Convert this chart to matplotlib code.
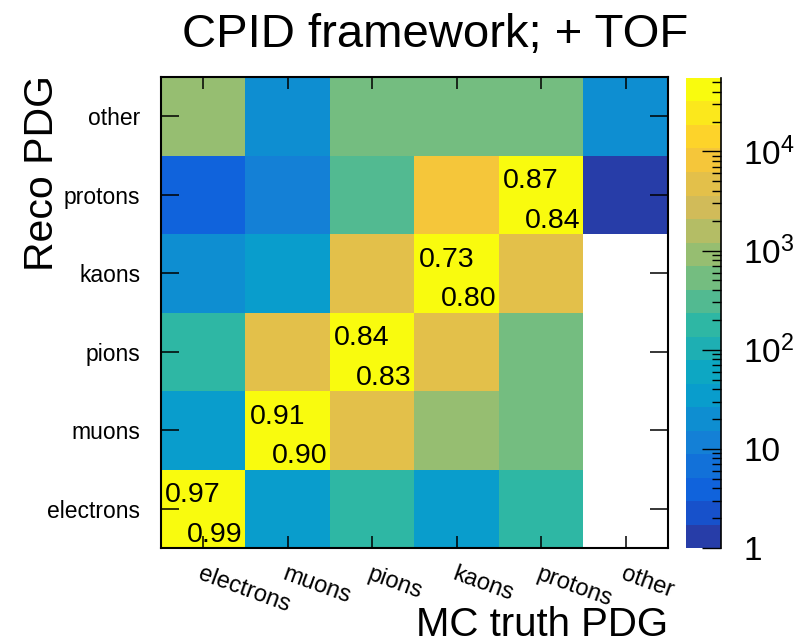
import numpy as np
import matplotlib
matplotlib.use("Agg")
import matplotlib.pyplot as plt
from matplotlib.colors import LinearSegmentedColormap, ListedColormap, BoundaryNorm
from matplotlib.ticker import FixedLocator, FixedFormatter, NullLocator

plt.rcParams['font.family'] = ['Liberation Sans', 'DejaVu Sans']
plt.rcParams['mathtext.fontset'] = 'custom'
plt.rcParams['mathtext.rm'] = 'Liberation Sans'
plt.rcParams['mathtext.it'] = 'Liberation Sans'

# Data: rows = reco PDG (bottom -> top), columns = MC truth PDG
categories = ["electrons", "muons", "pions", "kaons", "protons", "other"]

reco_electrons = [55000, 35, 180, 35, 180, 0]
reco_muons = [35, 45000, 4500, 900, 500, 0]
reco_pions = [180, 4500, 45000, 4500, 500, 0]
reco_kaons = [20, 35, 4500, 40000, 4500, 0]
reco_protons = [4, 12, 300, 8000, 45000, 1]
reco_other = [900, 20, 500, 500, 500, 20]

# efficiency (upper) and purity (lower) on the diagonal
eff_values = [0.97, 0.91, 0.84, 0.73, 0.87]
pur_values = [0.99, 0.90, 0.83, 0.80, 0.84]

cb_labels = ["1", "10", "$10^{2}$", "$10^{3}$", "$10^{4}$"]

counts = np.array([reco_electrons, reco_muons, reco_pions,
                   reco_kaons, reco_protons, reco_other], dtype=float)
counts = np.ma.masked_less_equal(counts, 0)

# ROOT kBird palette, 20 log contours
stops = [0.0, 0.125, 0.25, 0.375, 0.5, 0.625, 0.75, 0.875, 1.0]
red = [0.2082, 0.0592, 0.0780, 0.0232, 0.1802, 0.5301, 0.8186, 0.9956, 0.9764]
green = [0.1664, 0.3599, 0.5041, 0.6419, 0.7178, 0.7492, 0.7328, 0.7862, 0.9832]
blue = [0.5293, 0.8684, 0.8385, 0.7914, 0.6425, 0.4662, 0.3499, 0.1968, 0.0539]
bird = LinearSegmentedColormap.from_list(
    "bird", list(zip(stops, zip(red, green, blue))), N=255)
ncont = 20
band_colors = [bird(int((i + 0.99) * 255 / ncont) / 254) for i in range(ncont)]
cmap = ListedColormap(band_colors)
cmap.set_bad("white")
vmax = counts.max()
levels = np.logspace(0, np.log10(vmax), ncont + 1)
norm = BoundaryNorm(levels, ncont)

fig = plt.figure(figsize=(7.99, 6.44), dpi=100)
ax = fig.add_axes([0.2015, 0.149, 0.6345, 0.7314])
cax = fig.add_axes([0.8586, 0.149, 0.0438, 0.7299])

edges = np.arange(len(categories) + 1)
ax.pcolormesh(edges, edges, counts, cmap=cmap, norm=norm)

for i in range(len(eff_values)):
    ax.text(i + 0.05, i + 0.67, "%.2f" % eff_values[i], fontsize=20.5,
            ha='left', va='center', zorder=3)
    ax.text(i + 0.97, i + 0.17, "%.2f" % pur_values[i], fontsize=20.5,
            ha='right', va='center', zorder=3)

centers = edges[:-1] + 0.5
ax.set_xlim(0, 6)
ax.set_ylim(0, 6)
ax.set_xticks(centers)
ax.set_yticks(centers)
ax.set_xticklabels(categories, rotation=-20, ha='left', va='top',
                   rotation_mode='anchor', fontsize=17)
ax.set_yticklabels(categories, fontsize=16.5)
ax.tick_params(axis='x', direction='in', length=8.6, width=1.1,
               top=True, bottom=True, pad=11)
ax.tick_params(axis='y', direction='in', length=13, width=1.1,
               left=True, right=True, pad=15)
for sp in ax.spines.values():
    sp.set_linewidth(1.5)
    sp.set_zorder(4)

# colour scale drawn on a log axis
band_mid = np.sqrt(levels[:-1] * levels[1:])
cax.pcolormesh([0, 1], levels, band_mid.reshape(-1, 1), cmap=cmap, norm=norm)
cax.set_yscale('log')
cax.set_ylim(1, vmax)
cax.set_xlim(0, 1)
cax.xaxis.set_major_locator(NullLocator())
cax.yaxis.tick_right()
cax.yaxis.set_major_locator(FixedLocator([1, 10, 100, 1000, 10000]))
cax.yaxis.set_major_formatter(FixedFormatter(cb_labels))
cax.tick_params(axis='y', which='major', direction='in', length=13.7,
                width=1.0, labelsize=24, pad=16)
cax.tick_params(axis='y', which='minor', direction='in', length=6.5, width=1.0)
for side in ['left', 'top', 'bottom']:
    cax.spines[side].set_visible(False)
cax.spines['right'].set_linewidth(1.2)

fig.text(435 / 799, 1 - 47 / 644, "CPID framework; + TOF", fontsize=34,
         ha='center', va='baseline')
fig.text(668 / 799, 1 - 636 / 644, "MC truth PDG", fontsize=29,
         ha='right', va='baseline')
fig.text(42 / 799, 1 - 75 / 644, "Reco PDG", fontsize=29.5, rotation=90,
         ha='center', va='top')

fig.savefig("out.png", dpi=100)
